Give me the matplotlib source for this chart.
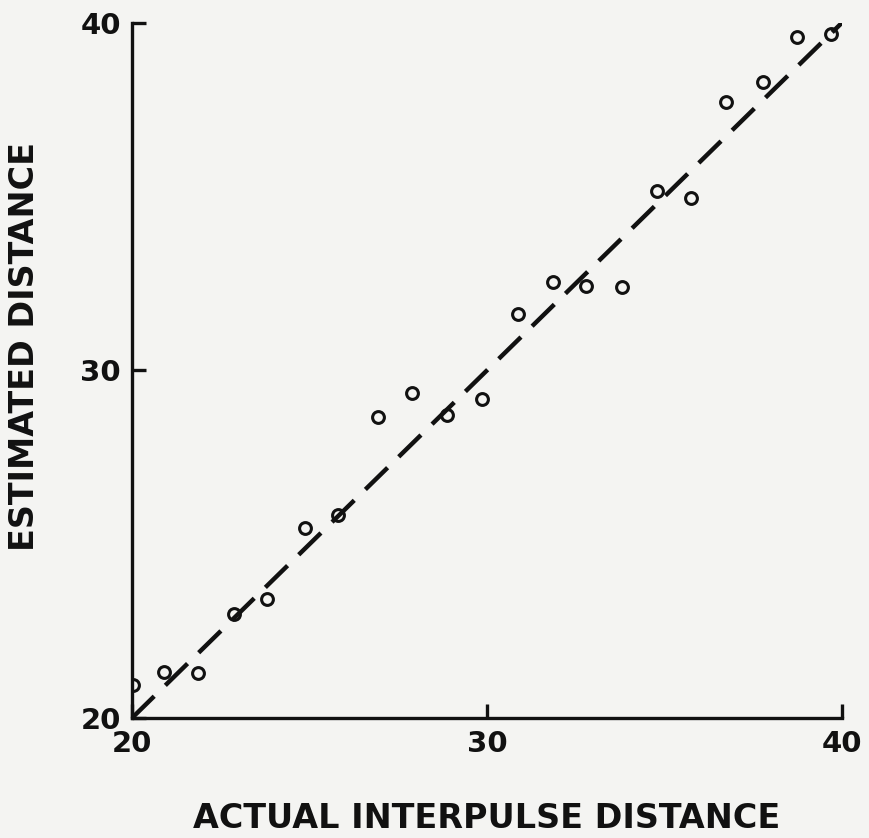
import matplotlib
matplotlib.use("Agg")
import matplotlib.pyplot as plt

# Values
actual = [20.03, 20.90, 21.86, 22.87, 23.80, 24.87, 25.80, 26.93, 27.89, 28.87,
          29.86, 30.87, 31.86, 32.79, 33.80, 34.79, 35.75, 36.73, 37.77, 38.73, 39.69]
estimated = [20.95, 21.32, 21.29, 22.99, 23.42, 25.46, 25.83, 28.65, 29.34, 28.71,
             29.17, 31.61, 32.53, 32.44, 32.39, 35.17, 34.97, 37.73, 38.30, 39.60, 39.68]
fit_x = [20, 40]
fit_y = [20, 40]
ticks = [20, 30, 40]

paper = "#f4f4f2"
ink = "#111111"

fig = plt.figure(figsize=(8.7, 8.38), dpi=100, facecolor=paper)
ax = fig.add_axes([0.1517, 0.1432, 0.8161, 0.8297], facecolor=paper)

ax.plot(fit_x, fit_y, color=ink, lw=3.2, dashes=(7, 3.5), solid_capstyle="butt", zorder=2)
ax.plot(actual, estimated, "o", ms=8.5, mfc="none", mec=ink, mew=2.2, zorder=3)

ax.set_xlim(20, 40)
ax.set_ylim(20, 40)
ax.set_xticks(ticks)
ax.set_yticks(ticks)

for side in ["top", "right"]:
    ax.spines[side].set_visible(False)
for side in ["left", "bottom"]:
    ax.spines[side].set_linewidth(2.4)
    ax.spines[side].set_color(ink)

ax.tick_params(direction="in", length=10, width=2.4, colors=ink, labelsize=21)
ax.tick_params(axis="x", pad=9)
ax.tick_params(axis="y", pad=8)
for lab in ax.get_xticklabels() + ax.get_yticklabels():
    lab.set_fontweight("bold")

ax.set_xlabel("ACTUAL INTERPULSE DISTANCE", fontsize=24, fontweight="bold",
              color=ink, labelpad=31)
ax.set_ylabel("ESTIMATED DISTANCE", fontsize=24, fontweight="bold",
              color=ink, labelpad=28)
ax.yaxis.label.set_y(0.535)

fig.savefig("out.png", dpi=100, facecolor=paper)
